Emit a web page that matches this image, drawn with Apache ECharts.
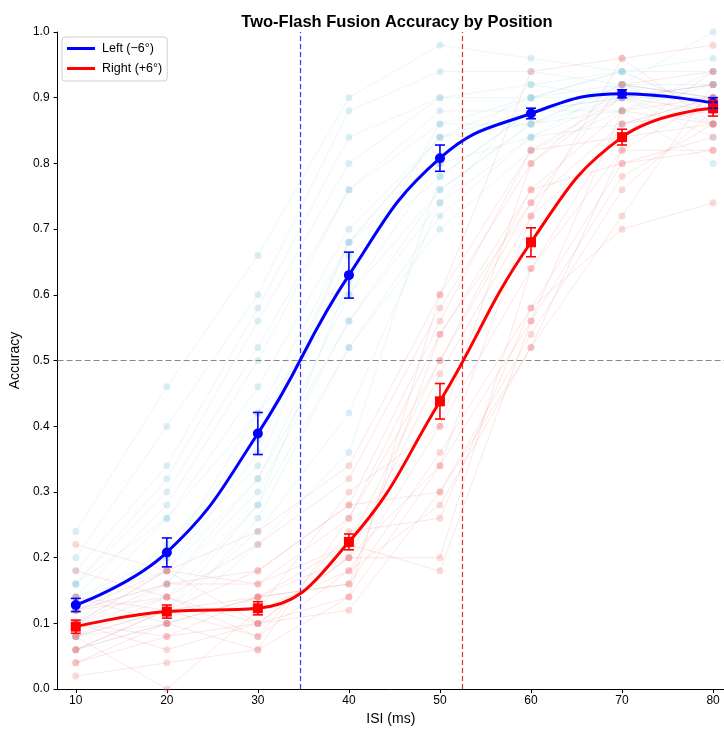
<!DOCTYPE html>
<html>
<head>
<meta charset="utf-8">
<script src="https://cdn.jsdelivr.net/npm/echarts@6/dist/echarts.min.js"></script>
<style>html,body{margin:0;padding:0;background:#fff;overflow:hidden}#c{width:724px;height:731px}</style>
</head>
<body>
<div id="c"></div>
<script>
// ---- data ----
const isi = [10, 20, 30, 40, 50, 60, 70, 80];
const xTicks = [10, 20, 30, 40, 50, 60, 70, 80];
const yTicks = [0, 0.1, 0.2, 0.3, 0.4, 0.5, 0.6, 0.7, 0.8, 0.9, 1.0];

const leftName = 'Left (\u22126\u00b0)';
const rightName = 'Right (+6\u00b0)';

const leftMean = [0.128, 0.208, 0.389, 0.630, 0.808, 0.876, 0.906, 0.892];
const leftErr  = [0.010, 0.022, 0.032, 0.035, 0.020, 0.008, 0.006, 0.008];
const rightMean = [0.095, 0.118, 0.123, 0.224, 0.438, 0.680, 0.840, 0.884];
const rightErr  = [0.010, 0.010, 0.010, 0.012, 0.027, 0.022, 0.012, 0.012];

const leftThreshold = 34.6;
const rightThreshold = 52.5;
const chanceLevel = 0.5;

const leftSubjects = [
  [0.24, 0.46, 0.66, 0.90, 0.98, 0.96, 0.94, 0.96],
  [0.20, 0.40, 0.60, 0.88, 0.94, 0.94, 0.92, 1.00],
  [0.18, 0.34, 0.58, 0.84, 0.90, 0.92, 0.94, 0.94],
  [0.16, 0.32, 0.56, 0.80, 0.90, 0.90, 0.92, 0.92],
  [0.16, 0.30, 0.52, 0.76, 0.88, 0.88, 0.90, 0.90],
  [0.14, 0.28, 0.50, 0.76, 0.86, 0.90, 0.94, 0.88],
  [0.12, 0.26, 0.46, 0.70, 0.84, 0.86, 0.90, 0.86],
  [0.16, 0.26, 0.42, 0.68, 0.84, 0.88, 0.88, 0.92],
  [0.10, 0.22, 0.38, 0.68, 0.80, 0.84, 0.92, 0.90],
  [0.12, 0.20, 0.34, 0.66, 0.78, 0.88, 0.90, 0.84],
  [0.14, 0.18, 0.32, 0.60, 0.76, 0.86, 0.88, 0.94],
  [0.08, 0.16, 0.32, 0.56, 0.74, 0.90, 0.94, 0.88],
  [0.10, 0.14, 0.28, 0.52, 0.72, 0.84, 0.90, 0.92],
  [0.12, 0.16, 0.30, 0.56, 0.76, 0.86, 0.92, 0.86],
  [0.08, 0.10, 0.26, 0.52, 0.70, 0.82, 0.88, 0.80],
  [0.10, 0.12, 0.24, 0.42, 0.74, 0.84, 0.86, 0.90],
  [0.06, 0.10, 0.22, 0.36, 0.78, 0.88, 0.92, 0.88],
  [0.10, 0.18, 0.36, 0.68, 0.84, 0.90, 0.90, 0.92],
  [0.14, 0.20, 0.42, 0.60, 0.80, 0.92, 0.90, 0.90],
  [0.08, 0.12, 0.28, 0.62, 0.86, 0.86, 0.92, 0.90]
];

const rightSubjects = [
  [0.22, 0.18, 0.24, 0.34, 0.60, 0.94, 0.96, 0.98],
  [0.18, 0.14, 0.22, 0.32, 0.58, 0.80, 0.92, 0.94],
  [0.14, 0.12, 0.18, 0.28, 0.56, 0.82, 0.90, 0.92],
  [0.12, 0.18, 0.16, 0.26, 0.54, 0.76, 0.88, 0.90],
  [0.10, 0.08, 0.14, 0.22, 0.50, 0.74, 0.86, 0.88],
  [0.08, 0.14, 0.10, 0.20, 0.48, 0.72, 0.84, 0.86],
  [0.06, 0.12, 0.08, 0.18, 0.40, 0.64, 0.82, 0.90],
  [0.04, 0.10, 0.14, 0.16, 0.36, 0.58, 0.80, 0.82],
  [0.02, 0.04, 0.06, 0.14, 0.34, 0.56, 0.78, 0.86],
  [0.10, 0.06, 0.10, 0.12, 0.30, 0.54, 0.76, 0.88],
  [0.08, 0.00, 0.12, 0.18, 0.28, 0.52, 0.72, 0.92],
  [0.12, 0.14, 0.08, 0.24, 0.26, 0.58, 0.70, 0.74],
  [0.06, 0.12, 0.14, 0.20, 0.20, 0.64, 0.86, 0.90],
  [0.10, 0.16, 0.16, 0.22, 0.18, 0.56, 0.88, 0.86],
  [0.04, 0.08, 0.10, 0.14, 0.60, 0.82, 0.84, 0.94],
  [0.14, 0.10, 0.06, 0.26, 0.50, 0.76, 0.80, 0.84],
  [0.08, 0.12, 0.12, 0.30, 0.40, 0.80, 0.90, 0.88],
  [0.12, 0.16, 0.18, 0.28, 0.30, 0.52, 0.82, 0.82],
  [0.06, 0.10, 0.14, 0.16, 0.54, 0.74, 0.92, 0.90],
  [0.10, 0.18, 0.10, 0.20, 0.34, 0.72, 0.96, 0.86]
];

// ---- chart ----
const FONT = 'Liberation Sans, Arial, Helvetica, sans-serif';
const chart = echarts.init(document.getElementById('c'), null, {renderer: 'canvas', width: 724, height: 731});

function subjectSeries(subjects, color, lineOp, dotOp, z) {
  return subjects.map(function (vals) {
    return {
      type: 'line', silent: true, z: z, animation: false,
      data: isi.map(function (x, i) { return [x, vals[i]]; }),
      symbol: 'circle', symbolSize: 7, showSymbol: true,
      lineStyle: {color: color, width: 1, opacity: lineOp},
      itemStyle: {color: color, opacity: dotOp, borderWidth: 0}
    };
  });
}

function errorSeries(mean, err, color) {
  return {
    type: 'custom', silent: true, z: 6, animation: false,
    data: isi.map(function (x, i) { return [x, mean[i] - err[i], mean[i] + err[i]]; }),
    encode: {x: 0, y: [1, 2]},
    renderItem: function (params, api) {
      const x = api.value(0);
      const lo = api.coord([x, api.value(1)]);
      const hi = api.coord([x, api.value(2)]);
      const cw = 5;
      const st = {stroke: color, lineWidth: 1.6};
      return {type: 'group', children: [
        {type: 'line', shape: {x1: lo[0], y1: lo[1], x2: hi[0], y2: hi[1]}, style: st},
        {type: 'line', shape: {x1: lo[0] - cw, y1: lo[1], x2: lo[0] + cw, y2: lo[1]}, style: st},
        {type: 'line', shape: {x1: hi[0] - cw, y1: hi[1], x2: hi[0] + cw, y2: hi[1]}, style: st}
      ]};
    }
  };
}

const series = []
  .concat(subjectSeries(leftSubjects, '#a6d4e4', 0.22, 0.4, 2))
  .concat(subjectSeries(rightSubjects, '#f08080', 0.2, 0.3, 3))
  .concat([
    {
      name: leftName, type: 'line', z: 5, animation: false, smooth: 0.45,
      data: isi.map(function (x, i) { return [x, leftMean[i]]; }),
      symbol: 'circle', symbolSize: 10, showSymbol: true,
      lineStyle: {color: '#0000ff', width: 3},
      itemStyle: {color: '#0000ff'},
      markLine: {
        silent: true, symbol: 'none', animation: false,
        label: {show: false},
        data: [
          {xAxis: leftThreshold, lineStyle: {color: '#3333ff', type: [5, 3], width: 1.2}},
          {yAxis: chanceLevel, lineStyle: {color: '#888888', type: [6, 3], width: 1.2}}
        ]
      }
    },
    {
      name: rightName, type: 'line', z: 5, animation: false, smooth: 0.45,
      data: isi.map(function (x, i) { return [x, rightMean[i]]; }),
      symbol: 'rect', symbolSize: 10, showSymbol: true,
      lineStyle: {color: '#ff0000', width: 3},
      itemStyle: {color: '#ff0000'},
      markLine: {
        silent: true, symbol: 'none', animation: false,
        label: {show: false},
        data: [
          {xAxis: rightThreshold, lineStyle: {color: '#e03030', type: [5, 3], width: 1.2}}
        ]
      }
    },
    errorSeries(leftMean, leftErr, '#0000ff'),
    errorSeries(rightMean, rightErr, '#ff0000')
  ]);

chart.setOption({
  animation: false,
  backgroundColor: '#ffffff',
  textStyle: {fontFamily: FONT},
  title: {
    text: 'Two-Flash Fusion Accuracy by Position',
    left: 392, top: 9, textAlign: 'center',
    textStyle: {fontFamily: FONT, fontSize: 16.5, fontWeight: 'bold', color: '#000'}
  },
  legend: {
    data: [{name: leftName, icon: 'rect'}, {name: rightName, icon: 'rect'}],
    orient: 'vertical', left: 62, top: 37,
    itemWidth: 28, itemHeight: 3, itemGap: 7,
    padding: [5, 5, 6, 5],
    borderColor: '#d0d0d0', borderWidth: 1, borderRadius: 3,
    backgroundColor: 'rgba(255,255,255,0.85)',
    textStyle: {fontFamily: FONT, fontSize: 12.5, color: '#000', padding: [0, 0, 0, 2]}
  },
  grid: {left: 57, right: 0, top: 32, bottom: 36, containLabel: false},
  xAxis: {
    type: 'value', min: 8, max: 81.2,
    name: 'ISI (ms)', nameLocation: 'middle', nameGap: 17,
    nameTextStyle: {fontFamily: FONT, fontSize: 14, color: '#000'},
    splitLine: {show: false},
    axisLine: {lineStyle: {color: '#000', width: 1}},
    axisTick: {show: true, length: 4, customValues: xTicks, lineStyle: {color: '#000'}},
    axisLabel: {customValues: xTicks, fontSize: 12, color: '#000', margin: 6, fontFamily: FONT}
  },
  yAxis: {
    type: 'value', min: 0, max: 1, interval: 0.1,
    name: 'Accuracy', nameLocation: 'middle', nameGap: 25, nameRotate: 90,
    nameTextStyle: {fontFamily: FONT, fontSize: 14, color: '#000'},
    splitLine: {show: false},
    axisLine: {show: true, lineStyle: {color: '#000', width: 1}},
    axisTick: {show: true, length: 4, lineStyle: {color: '#000'}},
    axisLabel: {fontSize: 12, color: '#000', margin: 8, fontFamily: FONT,
      formatter: function (v) { return v.toFixed(1); }}
  },
  series: series
});
</script>
</body>
</html>
